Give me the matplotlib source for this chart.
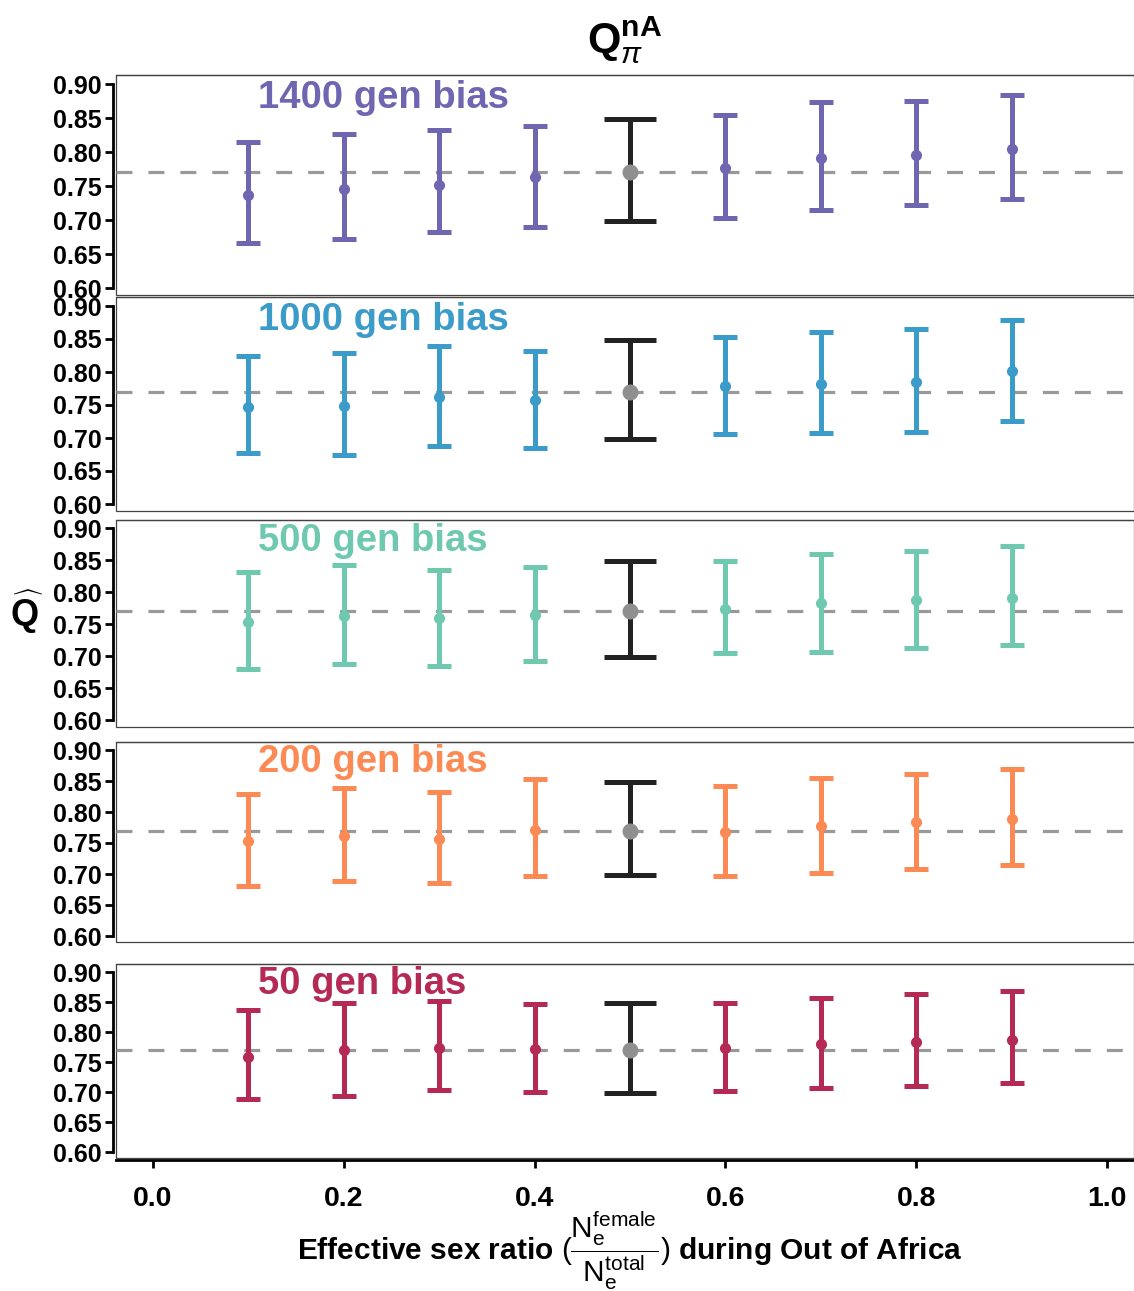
import matplotlib
matplotlib.use("Agg")
import matplotlib.pyplot as plt
from matplotlib.patches import Rectangle

plt.rcParams['font.family'] = ['Liberation Sans', 'DejaVu Sans']
plt.rcParams['mathtext.fontset'] = 'custom'
plt.rcParams['mathtext.rm'] = 'Liberation Sans'
plt.rcParams['mathtext.bf'] = 'Liberation Sans:bold'
plt.rcParams['mathtext.it'] = 'Liberation Sans:italic'
plt.rcParams['mathtext.sf'] = 'Liberation Sans'

# ---------------- data ----------------
sex_ratio = [0.1, 0.2, 0.3, 0.4, 0.6, 0.7, 0.8, 0.9]
neutral_x = 0.5
neutral_mean = 0.770
neutral_low = 0.698
neutral_high = 0.849
reference_line = 0.770

panel_labels = ["1400 gen bias", "1000 gen bias", "500 gen bias", "200 gen bias", "50 gen bias"]
panel_colors = ["#6f66b2", "#3b9bc9", "#6ec9b0", "#fc8a55", "#b52a55"]

mean_1400 = [0.737, 0.746, 0.751, 0.763, 0.776, 0.791, 0.796, 0.804]
low_1400 = [0.666, 0.672, 0.682, 0.690, 0.703, 0.715, 0.722, 0.731]
high_1400 = [0.815, 0.826, 0.832, 0.838, 0.854, 0.874, 0.875, 0.884]

mean_1000 = [0.747, 0.748, 0.762, 0.758, 0.779, 0.782, 0.785, 0.802]
low_1000 = [0.677, 0.674, 0.688, 0.685, 0.706, 0.708, 0.709, 0.726]
high_1000 = [0.824, 0.829, 0.839, 0.832, 0.853, 0.861, 0.865, 0.879]

mean_500 = [0.753, 0.762, 0.759, 0.764, 0.773, 0.783, 0.787, 0.791]
low_500 = [0.680, 0.688, 0.684, 0.692, 0.705, 0.706, 0.712, 0.717]
high_500 = [0.831, 0.842, 0.834, 0.839, 0.848, 0.859, 0.864, 0.872]

mean_200 = [0.753, 0.761, 0.756, 0.771, 0.768, 0.778, 0.784, 0.788]
low_200 = [0.680, 0.688, 0.686, 0.696, 0.697, 0.702, 0.708, 0.715]
high_200 = [0.829, 0.838, 0.833, 0.853, 0.842, 0.855, 0.861, 0.869]

mean_50 = [0.759, 0.770, 0.774, 0.772, 0.774, 0.780, 0.783, 0.787]
low_50 = [0.688, 0.694, 0.703, 0.700, 0.702, 0.706, 0.710, 0.715]
high_50 = [0.837, 0.848, 0.851, 0.847, 0.849, 0.856, 0.863, 0.868]

means = [mean_1400, mean_1000, mean_500, mean_200, mean_50]
lows = [low_1400, low_1000, low_500, low_200, low_50]
highs = [high_1400, high_1000, high_500, high_200, high_50]

y_ticks = [0.60, 0.65, 0.70, 0.75, 0.80, 0.85, 0.90]
y_ticklabels = ["0.60", "0.65", "0.70", "0.75", "0.80", "0.85", "0.90"]
x_ticks = [0.0, 0.2, 0.4, 0.6, 0.8, 1.0]
x_ticklabels = ["0.0", "0.2", "0.4", "0.6", "0.8", "1.0"]

# ---------------- layout ----------------
W, H = 1134, 1291
fig = plt.figure(figsize=(W / 100, H / 100), dpi=100)

# pixel positions of 0.90 and 0.60 ticks per panel
tick_px = [(84, 288), (306, 504), (528, 720), (750, 936), (972, 1152)]
ylo, yhi = 0.5897, 0.9132
ax_left_px, ax_right_px = 116, 1134
x0_px, x1_px = 153, 1107
xlo = -(x0_px - ax_left_px) / (x1_px - x0_px)
xhi = (ax_right_px - x0_px) / (x1_px - x0_px)

for i in range(5):
    p90, p60 = tick_px[i]
    ppu = (p60 - p90) / 0.3
    top_px = p90 - (yhi - 0.90) * ppu
    bot_px = p60 + (0.60 - ylo) * ppu
    ax = fig.add_axes([ax_left_px / W, 1 - bot_px / H,
                       (ax_right_px - ax_left_px) / W, (bot_px - top_px) / H])
    ax.set_xlim(xlo, xhi)
    ax.set_ylim(ylo, yhi)
    col = panel_colors[i]

    ax.axhline(reference_line, color="#999999", lw=2.3, dashes=(5, 5), zorder=1)

    ax.errorbar(sex_ratio, means[i],
                yerr=[[m - l for m, l in zip(means[i], lows[i])],
                      [h - m for m, h in zip(means[i], highs[i])]],
                fmt='o', color=col, ecolor=col, elinewidth=3.6, capsize=8.5,
                capthick=3.6, markersize=7, zorder=3)
    ax.errorbar([neutral_x], [neutral_mean],
                yerr=[[neutral_mean - neutral_low], [neutral_high - neutral_mean]],
                fmt='none', ecolor="#222222", elinewidth=3.6, capsize=19,
                capthick=3.6, zorder=3)
    ax.plot([neutral_x], [neutral_mean], 'o', color="#8f8f8f", markersize=10.5, zorder=4)

    ax.text(0.11, 0.864, panel_labels[i], color=col, fontsize=27.5, fontweight='bold',
            ha='left', va='baseline', zorder=5)

    # frame
    ax.spines['top'].set_color('#444444')
    ax.spines['top'].set_linewidth(0.9)
    ax.spines['right'].set_visible(False)
    ax.add_patch(Rectangle((0, 0), 1, 1, transform=ax.transAxes, fill=False,
                           edgecolor='#444444', lw=0.9, zorder=0.5, clip_on=False))
    ax.spines['left'].set_color('black')
    ax.spines['left'].set_linewidth(2.0)
    ax.spines['left'].set_position(('outward', 2))
    ax.spines['left'].set_bounds(0.60, 0.90)

    ax.set_yticks(y_ticks)
    ax.set_yticklabels(y_ticklabels)
    ax.tick_params(axis='y', direction='out', length=5.5, width=2.0, color='black',
                   labelsize=18, pad=3)
    for lab in ax.get_yticklabels():
        lab.set_fontweight('bold')

    if i == 4:
        ax.spines['bottom'].set_color('black')
        ax.spines['bottom'].set_linewidth(2.0)
        ax.spines['bottom'].set_position(('outward', 1))
        ax.set_xticks(x_ticks)
        ax.set_xticklabels(x_ticklabels)
        ax.tick_params(axis='x', direction='out', length=6, width=2.0, color='black',
                       labelsize=20.5, pad=13)
        for lab in ax.get_xticklabels():
            lab.set_fontweight('bold')
    else:
        ax.spines['bottom'].set_visible(False)
        ax.set_xticks([])

# title
fig.text(625 / W, 1 - 40 / H, r'$\mathbf{Q}_{\pi}^{\mathbf{nA}}$', fontsize=31,
         ha='center', va='center')
# y label
fig.text(27 / W, 1 - 612 / H, r'$\widehat{\mathbf{Q}}$', fontsize=26,
         ha='center', va='center')
# x label
fig.text(630 / W, 1 - 1251 / H,
         r'$\mathbf{Effective\ sex\ ratio\ }(\dfrac{\mathrm{N_e^{female}}}{\mathrm{N_e^{total}}})\mathbf{\ during\ Out\ of\ Africa}$',
         fontsize=21.5, ha='center', va='center')

fig.savefig("out.png", dpi=100, facecolor='white')
